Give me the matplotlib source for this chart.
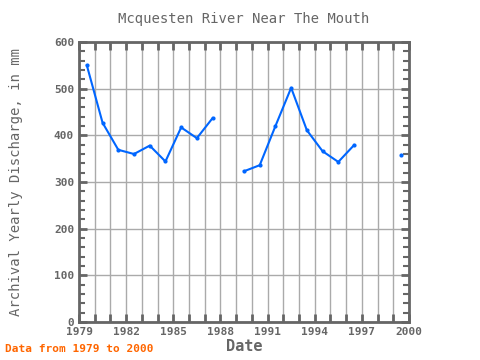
import numpy as np
import matplotlib
matplotlib.use("Agg")
import matplotlib.pyplot as plt
from matplotlib.ticker import MultipleLocator

# yearly values (mid-year), NaN = no data
years = [1979.5, 1980.5, 1981.5, 1982.5, 1983.5, 1984.5, 1985.5, 1986.5, 1987.5,
         1988.5, 1989.5, 1990.5, 1991.5, 1992.5, 1993.5, 1994.5, 1995.5, 1996.5,
         1997.5, 1998.5, 1999.5]
discharge = [550, 427, 369, 360, 378, 344, 417, 394, 437,
             np.nan, 323, 336, 420, 502, 411, 366, 343, 379,
             np.nan, np.nan, 357]

gray = "#666666"
blue = "#0066ff"
plt.rcParams["font.family"] = "DejaVu Sans Mono"

fig = plt.figure(figsize=(4.8, 3.6), dpi=100)
ax = fig.add_axes([0.1646, 0.106, 0.6875, 0.777])

ax.plot(years, discharge, color=blue, linewidth=1.5)
# isolated points / endpoints
ax.plot(years, discharge, color=blue, linestyle="none", marker="o", markersize=2)

ax.set_xlim(1979, 2000)
ax.set_ylim(0, 600)
ax.set_xticks([1979, 1982, 1985, 1988, 1991, 1994, 1997, 2000])
ax.xaxis.set_minor_locator(MultipleLocator(1))
ax.yaxis.set_major_locator(MultipleLocator(100))
ax.yaxis.set_minor_locator(MultipleLocator(20))

ax.grid(True, which="major", axis="y", color="#aaaaaa", linewidth=1)
ax.grid(True, which="both", axis="x", color="#aaaaaa", linewidth=1)
ax.set_axisbelow(True)

for s in ax.spines.values():
    s.set_color(gray)
    s.set_linewidth(2)

ax.tick_params(which="both", direction="in", top=True, right=True, color=gray,
               labelcolor=gray, labelsize=8)
ax.tick_params(which="major", length=6, width=2)
ax.tick_params(which="minor", length=4, width=1.5)
ax.tick_params(axis="x", which="minor", length=6, width=2)
for lab in ax.get_xticklabels() + ax.get_yticklabels():
    lab.set_fontweight("bold")

ax.set_title("Mcquesten River Near The Mouth", color=gray, fontsize=10, pad=14)
ax.set_xlabel("Date", color=gray, fontsize=11, fontweight="bold", labelpad=2)
ax.set_ylabel("Archival Yearly Discharge, in mm", color=gray, fontsize=10, labelpad=22)

fig.text(0.01, 0.022, "Data from 1979 to 2000", color="#ff6600", fontsize=8,
         fontweight="bold")

fig.savefig("out.png", dpi=100)
